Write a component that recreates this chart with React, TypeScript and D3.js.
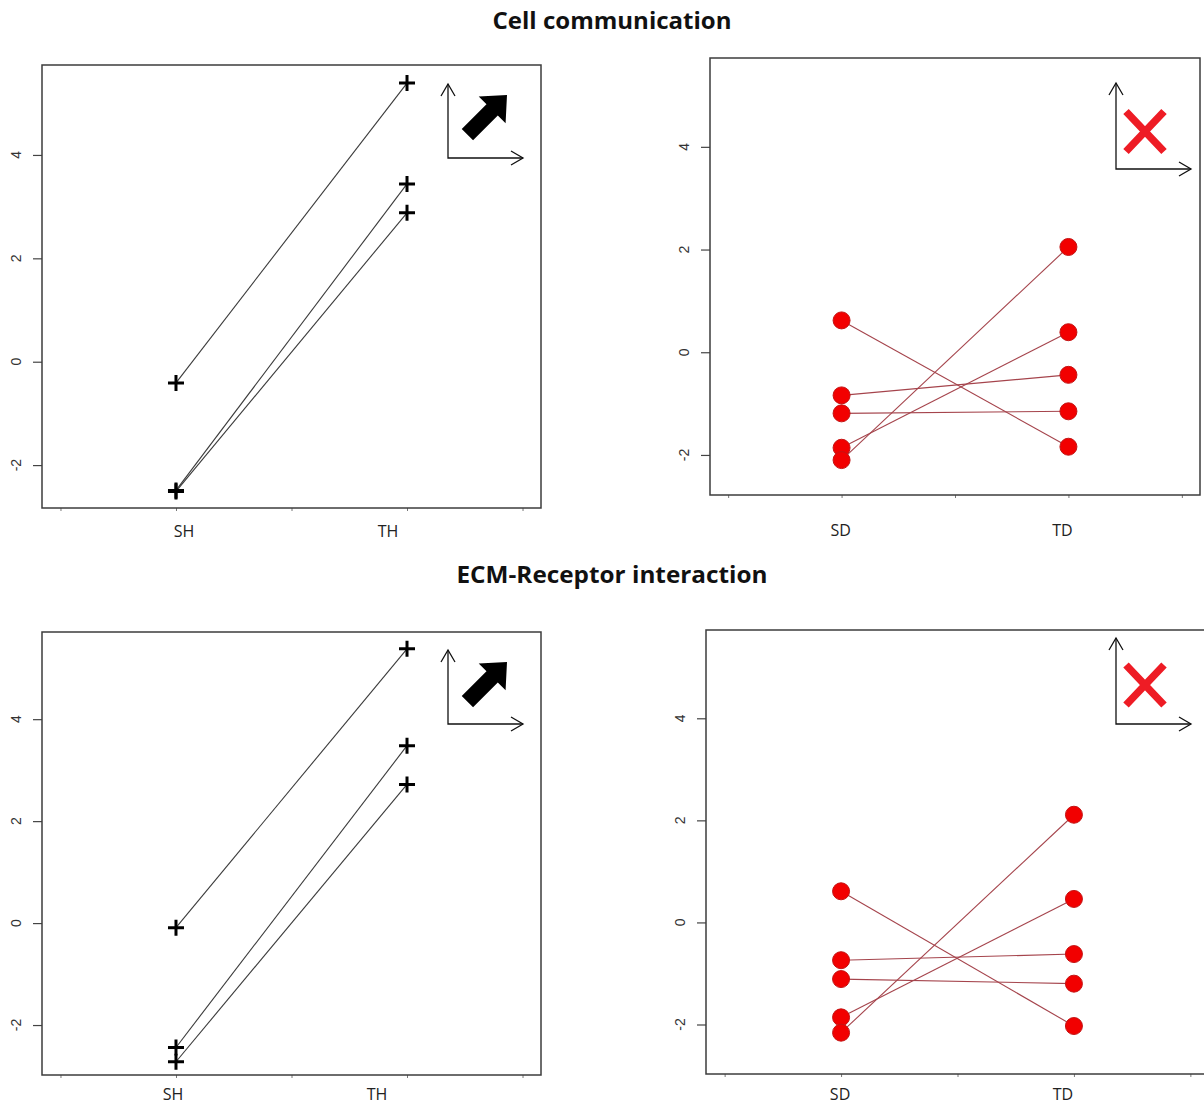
import React, { useEffect, useRef } from "react";
import * as d3 from "d3";

// Pathway titles, one per row of panels
const titles = ["Cell communication", "ECM-Receptor interaction"];

// Group labels for the two conditions of each panel
const upGroups = ["SH", "TH"];
const downGroups = ["SD", "TD"];

const yTickValues = [-2, 0, 2, 4];
const xTickValues = [0.5, 1, 1.5, 2, 2.5];

// Cell communication: paired values (start group -> end group)
const cellUpStart = [-0.41, -2.49, -2.51];
const cellUpEnd = [5.39, 3.44, 2.88];
const cellDownStart = [0.62, -0.84, -1.19, -1.86, -2.1];
const cellDownEnd = [-1.84, -0.44, -1.15, 0.39, 2.05];

// ECM-Receptor interaction: paired values
const ecmUpStart = [-0.09, -2.44, -2.72];
const ecmUpEnd = [5.38, 3.48, 2.72];
const ecmDownStart = [0.61, -0.74, -1.11, -1.86, -2.16];
const ecmDownEnd = [-2.03, -0.62, -1.2, 0.46, 2.11];

type Panel = {
  kind: "up" | "down";
  groups: string[];
  start: number[];
  end: number[];
  box: [number, number, number, number]; // left, right, top, bottom
  yDom: [number, number];
  labelDx: [number, number];
  labelY: number;
  icon: { x: number; y: number; h: number; w: number; mx: number; my: number };
};

const panels: Panel[] = [
  {
    kind: "up", groups: upGroups, start: cellUpStart, end: cellUpEnd,
    box: [42, 541, 65, 508], yDom: [-2.83, 5.74], labelDx: [8, -19], labelY: 537,
    icon: { x: 448, y: 158, h: 74, w: 75, mx: 507, my: 95 },
  },
  {
    kind: "down", groups: downGroups, start: cellDownStart, end: cellDownEnd,
    box: [710, 1200, 58, 495], yDom: [-2.78, 5.73], labelDx: [-1, -6], labelY: 536,
    icon: { x: 1116, y: 169, h: 86, w: 75, mx: 1145, my: 131.5 },
  },
  {
    kind: "up", groups: upGroups, start: ecmUpStart, end: ecmUpEnd,
    box: [42, 541, 632, 1075], yDom: [-2.98, 5.71], labelDx: [-3, -30], labelY: 1100,
    icon: { x: 448, y: 724, h: 74, w: 75, mx: 507, my: 662 },
  },
  {
    kind: "down", groups: downGroups, start: ecmDownStart, end: ecmDownEnd,
    box: [706, 1209, 630, 1074], yDom: [-2.97, 5.73], labelDx: [-1, -11], labelY: 1100,
    icon: { x: 1116, y: 724, h: 86, w: 75, mx: 1145, my: 685 },
  },
];

const W = 1204;
const H = 1107;

export default function App() {
  const ref = useRef<SVGSVGElement | null>(null);

  useEffect(() => {
    const svg = d3.select(ref.current);
    svg.selectAll("*").remove();

    svg.append("rect").attr("width", W).attr("height", H).attr("fill", "#fff");

    // row titles
    const titleY = [29, 583];
    const titleLen = [239, 311];
    titles.forEach((t, i) => {
      svg.append("text")
        .attr("x", 612).attr("y", titleY[i])
        .attr("text-anchor", "middle")
        .attr("font-family", "'Open Sans', sans-serif")
        .attr("font-weight", 700)
        .attr("font-size", 23)
        .attr("textLength", titleLen[i])
        .attr("lengthAdjust", "spacingAndGlyphs")
        .attr("fill", "#111")
        .text(t);
    });

    panels.forEach((p) => {
      const [l, r, t, b] = p.box;
      const x = d3.scaleLinear().domain([0.42, 2.58]).range([l, r]);
      const y = d3.scaleLinear().domain(p.yDom).range([b, t]);
      const g = svg.append("g");

      // y axis ticks
      const ya = g.append("g").attr("transform", `translate(${l},0)`)
        .call(d3.axisLeft(y).tickValues(yTickValues).tickSize(9).tickFormat(() => ""));
      ya.select(".domain").remove();
      ya.selectAll("line").attr("stroke", "#444").attr("stroke-width", 1.2);

      yTickValues.forEach((v) => {
        g.append("text")
          .attr("transform", `translate(${l - 26},${y(v)}) rotate(-90)`)
          .attr("text-anchor", "middle")
          .attr("dominant-baseline", "central")
          .attr("font-family", "'Liberation Sans', Arial, sans-serif")
          .attr("font-size", 14)
          .attr("fill", "#333")
          .text(String(v));
      });

      // x axis ticks
      const xa = g.append("g").attr("transform", `translate(0,${b})`)
        .call(d3.axisBottom(x).tickValues(xTickValues).tickSize(3).tickFormat(() => ""));
      xa.select(".domain").remove();
      xa.selectAll("line").attr("stroke", "#777").attr("stroke-width", 1);

      // group labels
      p.groups.forEach((name, i) => {
        g.append("text")
          .attr("x", x(i + 1) + p.labelDx[i]).attr("y", p.labelY)
          .attr("text-anchor", "middle")
          .attr("font-family", "'Open Sans', sans-serif")
          .attr("font-size", 16)
          .attr("fill", "#222")
          .text(name);
      });

      // connecting lines
      const pairs = p.start.map((s, i) => ({ s, e: p.end[i] }));
      const lineColor = p.kind === "up" ? "#3a3a3a" : "#a5444c";
      g.selectAll("line.pair").data(pairs).enter().append("line")
        .attr("class", "pair")
        .attr("x1", x(1)).attr("x2", x(2))
        .attr("y1", (d) => y(d.s)).attr("y2", (d) => y(d.e))
        .attr("stroke", lineColor).attr("stroke-width", 1.1);

      const pts = [
        ...p.start.map((v) => ({ gx: 1, v })),
        ...p.end.map((v) => ({ gx: 2, v })),
      ];
      if (p.kind === "up") {
        const plus = g.selectAll("g.plus").data(pts).enter().append("g")
          .attr("transform", (d) => `translate(${x(d.gx)},${y(d.v)})`);
        plus.append("path").attr("d", "M-8,0H8M0,-8V8")
          .attr("stroke", "#000").attr("stroke-width", 3).attr("fill", "none");
      } else {
        g.selectAll("circle.pt").data(pts).enter().append("circle")
          .attr("cx", (d) => x(d.gx)).attr("cy", (d) => y(d.v)).attr("r", 8.5)
          .attr("fill", "#f20000").attr("stroke", "#c41414").attr("stroke-width", 1);
      }

      // plot frame
      g.append("rect")
        .attr("x", l).attr("y", t).attr("width", r - l).attr("height", b - t)
        .attr("fill", "none").attr("stroke", "#3c3c3c").attr("stroke-width", 1.5);

      // trend icon: small axes with an arrow or a cross
      const ic = p.icon;
      const ig = g.append("g").attr("fill", "none").attr("stroke", "#111").attr("stroke-width", 1.3);
      ig.append("path").attr("d", `M${ic.x},${ic.y - ic.h}V${ic.y}H${ic.x + ic.w}`);
      ig.append("path").attr("d", `M${ic.x - 7},${ic.y - ic.h + 12}L${ic.x},${ic.y - ic.h}L${ic.x + 7},${ic.y - ic.h + 12}`);
      ig.append("path").attr("d", `M${ic.x + ic.w - 12},${ic.y - 7}L${ic.x + ic.w},${ic.y}L${ic.x + ic.w - 12},${ic.y + 7}`);
      if (p.kind === "up") {
        g.append("path")
          .attr("d", "M0,0L-21,-19L-21,-8L-56,-8L-56,8L-21,8L-21,19Z")
          .attr("transform", `translate(${ic.mx},${ic.my}) rotate(-45)`)
          .attr("fill", "#000");
      } else {
        g.append("path")
          .attr("d", `M${ic.mx - 19},${ic.my - 20}L${ic.mx + 19},${ic.my + 20}M${ic.mx + 19},${ic.my - 20}L${ic.mx - 19},${ic.my + 20}`)
          .attr("stroke", "#ee1c25").attr("stroke-width", 7.5).attr("fill", "none");
      }
    });
  }, []);

  return (
    <svg
      ref={ref}
      width={W}
      height={H}
      style={{ position: "absolute", left: 0, top: 0, display: "block" }}
    />
  );
}
